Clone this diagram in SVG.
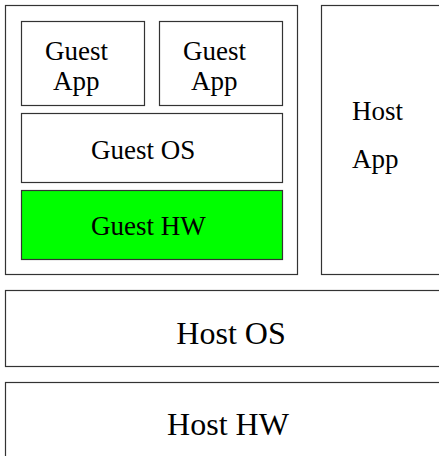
<svg xmlns="http://www.w3.org/2000/svg" width="439" height="456" viewBox="0 0 439 456" font-family="Liberation Serif, Tinos, serif">
<style>
rect{fill:#fff;stroke:#333;stroke-width:1.2}
text{fill:#000}
</style>
<rect x="0" y="0" width="439" height="456" style="stroke:none"/>
<g id="guest-vm"><rect x="5.5" y="5.5" width="292" height="269"/></g>
<g id="guest-app-1"><rect x="21.5" y="21.5" width="123" height="84"/><text font-family="Liberation Serif, serif" font-size="27" x="45" y="60">Guest</text><text font-family="Liberation Serif, serif" font-size="27" x="53" y="90">App</text></g>
<g id="guest-app-2"><rect x="159.5" y="21.5" width="123" height="84"/><text font-family="Liberation Serif, serif" font-size="27" x="183" y="60">Guest</text><text font-family="Liberation Serif, serif" font-size="27" x="191" y="90">App</text></g>
<g id="guest-os"><rect x="21.5" y="113.5" width="261" height="69"/><text font-family="Liberation Serif, serif" font-size="27" x="91" y="159">Guest OS</text></g>
<g id="guest-hw"><rect x="21.5" y="190.5" width="261" height="69" style="fill:#00ff00"/><text font-family="Liberation Serif, serif" font-size="27" x="91" y="235">Guest HW</text></g>
<g id="host-app"><rect x="321.5" y="5.5" width="130" height="269"/><text font-family="Liberation Serif, serif" font-size="27" x="352" y="120">Host</text><text font-family="Liberation Serif, serif" font-size="27" x="352" y="168">App</text></g>
<g id="host-os"><rect x="5.5" y="290.5" width="446" height="76"/><text font-family="Liberation Serif, serif" font-size="32" x="231" y="344" text-anchor="middle">Host OS</text></g>
<g id="host-hw"><rect x="5.5" y="382.5" width="446" height="90"/><text font-family="Liberation Serif, serif" font-size="32" x="228" y="435" text-anchor="middle">Host HW</text></g>
<g id="connectors"/>
</svg>
